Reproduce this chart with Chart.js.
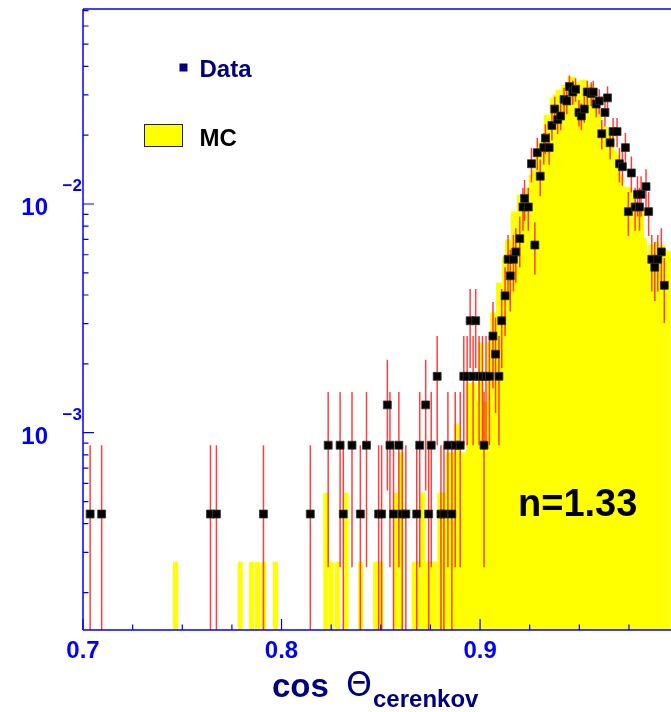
<!DOCTYPE html>
<html>
<head>
<meta charset="utf-8">
<script src="https://cdn.jsdelivr.net/npm/chart.js@4.4.1/dist/chart.umd.min.js"></script>
<style>
  html, body { margin: 0; padding: 0; background: #fff; overflow: hidden; }
  body { width: 671px; height: 712px; }
  canvas { display: block; }
</style>
</head>
<body>
<canvas id="c" width="685" height="712"></canvas>
<script>
// measured cos(theta_cerenkov): points with entries per bin
const dataCos = [
  0.7036, 0.7094, 0.7642, 0.7672, 0.7909, 0.8145, 0.8235, 0.8295, 0.8311, 0.8355,
  0.8397, 0.8428, 0.8489, 0.8504, 0.8533, 0.8546, 0.8564, 0.8591, 0.8608, 0.8626,
  0.8681, 0.8696, 0.8726, 0.8741, 0.8754, 0.8784, 0.8803, 0.8818, 0.8838, 0.8858,
  0.8875, 0.8900, 0.8918, 0.8935, 0.8950, 0.8965, 0.8978, 0.8995, 0.9012, 0.9020,
  0.9030, 0.9047, 0.9065, 0.9078, 0.9095, 0.9109, 0.9126, 0.9141, 0.9152, 0.9168,
  0.9180, 0.9200, 0.9216, 0.9224, 0.9243, 0.9259, 0.9276, 0.9288, 0.9303, 0.9321,
  0.9329, 0.9348, 0.9362, 0.9376, 0.9391, 0.9406, 0.9423, 0.9437, 0.9450, 0.9467,
  0.9481, 0.9498, 0.9510, 0.9525, 0.9540, 0.9560, 0.9570, 0.9585, 0.9600, 0.9613,
  0.9629, 0.9642, 0.9655, 0.9670, 0.9690, 0.9702, 0.9717, 0.9732, 0.9747, 0.9762,
  0.9781, 0.9793, 0.9803, 0.9811, 0.9836, 0.9849, 0.9865, 0.9880, 0.9895, 0.9913,
  0.9928
];
const dataCounts = [
  1, 1, 1, 1, 1, 1, 2, 2, 1, 2,
  1, 2, 1, 1, 3, 2, 1, 2, 1, 1,
  1, 2, 3, 1, 2, 4, 1, 1, 2, 1,
  2, 2, 4, 4, 7, 4, 7, 4, 4, 2,
  4, 4, 6, 5, 4, 7, 9, 13, 11, 13,
  14, 16, 22, 24, 22, 34, 15, 38, 30, 40,
  44, 40, 50, 59, 53, 55, 65, 64, 74, 70,
  72, 57, 55, 59, 70, 69, 70, 62, 64, 46,
  57, 66, 42, 47, 47, 34, 33, 40, 21, 31,
  22, 25, 22, 25, 27, 21, 13, 12, 13, 14,
  10
];
const dataUnit = 4.41e-4;   // normalised weight of one entry

// simulation histogram (bin centre, content)
const mcCos = [
  0.7466, 0.7792, 0.7849, 0.7879, 0.7909, 0.7969, 0.8223, 0.8250, 0.8282, 0.8325,
  0.8398, 0.8474, 0.8499, 0.8577, 0.8602, 0.8668, 0.8688, 0.8712, 0.8733, 0.8753,
  0.8771, 0.8798, 0.8815, 0.8840, 0.8862,
  0.8883, 0.8898, 0.8913, 0.8928, 0.8943, 0.8958, 0.8973, 0.8988, 0.9003, 0.9018,
  0.9033, 0.9048, 0.9063, 0.9078, 0.9093, 0.9108, 0.9123, 0.9138, 0.9153, 0.9168,
  0.9183, 0.9198, 0.9213, 0.9228, 0.9243, 0.9258, 0.9273, 0.9288, 0.9303, 0.9318,
  0.9333, 0.9348, 0.9363, 0.9378, 0.9393, 0.9408, 0.9423, 0.9438, 0.9453, 0.9468,
  0.9483, 0.9498, 0.9513, 0.9528, 0.9543, 0.9558, 0.9573, 0.9588, 0.9603, 0.9618,
  0.9633, 0.9648, 0.9663, 0.9678, 0.9693, 0.9708, 0.9723, 0.9738, 0.9753, 0.9768,
  0.9783, 0.9798, 0.9813, 0.9828, 0.9843, 0.9858, 0.9873, 0.9888, 0.9903, 0.9918,
  0.9933, 0.9948
];
const mcContent = [
  2.72e-4, 2.72e-4, 2.72e-4, 2.72e-4, 2.72e-4, 2.72e-4, 5.44e-4, 2.72e-4, 2.72e-4, 5.44e-4,
  2.72e-4, 2.72e-4, 2.72e-4, 5.44e-4, 8.16e-4, 2.72e-4, 2.72e-4, 5.44e-4, 2.72e-4, 2.72e-4,
  2.72e-4, 5.44e-4, 5.44e-4, 8.16e-4, 8.16e-4,
  0.00109, 0.000816, 0.000816, 0.000816, 0.00165, 0.00165, 0.00165, 0.00136, 0.00247, 0.00136,
  0.00136, 0.00247, 0.00334, 0.00334, 0.00451, 0.00451, 0.00587, 0.00696, 0.00696, 0.00923,
  0.00923, 0.01095, 0.01073, 0.01073, 0.01175, 0.01339, 0.01408, 0.01688, 0.01867, 0.01867,
  0.02450, 0.02401, 0.02900, 0.02996, 0.03151, 0.03151, 0.03314, 0.03314, 0.03591, 0.03591,
  0.03415, 0.03415, 0.03485, 0.03485, 0.03314, 0.03314, 0.03088, 0.02709, 0.02450, 0.02171,
  0.02171, 0.02171, 0.02004, 0.01722, 0.01638, 0.01339, 0.01187, 0.01187, 0.01175, 0.01117,
  0.00990, 0.00970, 0.00970, 0.00710, 0.00598, 0.00662, 0.00642, 0.00682, 0.00642, 0.00662,
  0.00629, 0.00620
];

const xTickLabels = ['0.7', '0.8', '0.9'];
const yLabelExps = [-3, -2];
const yMin = 1.372e-4, yMax = 0.07121;

const blue = '#0000ff';
const navy = '#000080';
const font = '"Liberation Sans", Arial, sans-serif';

// poisson error bars, drawn just before the data markers
const errorBars = {
  id: 'errorBars',
  beforeDatasetDraw(chart, args) {
    if (args.index !== 1) return;
    const {ctx, chartArea: a, scales: {x, y}} = chart;
    ctx.save();
    ctx.beginPath();
    ctx.rect(a.left, a.top, a.right - a.left, a.bottom - a.top);
    ctx.clip();
    ctx.strokeStyle = 'rgba(255,0,0,0.75)';
    ctx.lineWidth = 1.5;
    dataCounts.forEach((n, i) => {
      const px = x.getPixelForValue(dataCos[i]);
      const s = Math.sqrt(n);
      const top = y.getPixelForValue((n + s) * dataUnit);
      const bot = n - s > 0 ? y.getPixelForValue((n - s) * dataUnit) : a.bottom;
      ctx.beginPath();
      ctx.moveTo(px, top);
      ctx.lineTo(px, bot);
      ctx.stroke();
    });
    ctx.restore();
  }
};

// axes frame, ticks, labels, legend and annotation
const decor = {
  id: 'decor',
  afterDraw(chart) {
    const {ctx, chartArea: a, scales: {x, y}} = chart;
    ctx.save();
    ctx.strokeStyle = blue;
    ctx.lineWidth = 1.5;
    ctx.beginPath();
    ctx.moveTo(a.left, a.top); ctx.lineTo(a.right, a.top);
    ctx.moveTo(a.left, a.top); ctx.lineTo(a.left, a.bottom);
    ctx.moveTo(a.left, a.bottom); ctx.lineTo(a.right, a.bottom);
    ctx.stroke();

    // y ticks (log)
    ctx.lineWidth = 1.2;
    ctx.beginPath();
    for (let e = -4; e <= -1; e++) {
      for (let m = 1; m <= 9; m++) {
        const v = m * Math.pow(10, e);
        if (v < y.min || v > y.max) continue;
        const py = y.getPixelForValue(v);
        ctx.moveTo(a.left, py);
        ctx.lineTo(a.left + (m === 1 ? 11 : 5.5), py);
      }
    }
    // x ticks every 0.025
    for (let k = 0; k <= 12; k++) {
      const v = 0.7 + k * 0.025;
      const px = x.getPixelForValue(v);
      ctx.moveTo(px, a.bottom);
      ctx.lineTo(px, a.bottom - (k % 4 === 0 ? 11 : 5.5));
    }
    ctx.stroke();

    // tick labels
    ctx.fillStyle = blue;
    ctx.textBaseline = 'alphabetic';
    ctx.textAlign = 'center';
    ctx.font = 'bold 24px ' + font;
    xTickLabels.forEach(t => {
      ctx.fillText(t, x.getPixelForValue(parseFloat(t)), 658);
    });
    ctx.textAlign = 'right';
    yLabelExps.forEach(e => {
      const py = y.getPixelForValue(Math.pow(10, e));
      ctx.font = 'bold 24px ' + font;
      ctx.fillText('10', 48, py + 11);
      ctx.font = 'bold 17px ' + font;
      ctx.fillText('\u2212' + Math.abs(e), 82, py - 13);
    });

    // axis title
    ctx.fillStyle = navy;
    ctx.textAlign = 'left';
    ctx.font = 'bold 33px ' + font;
    ctx.fillText('cos', 272, 697);
    ctx.font = '33px "DejaVu Sans", sans-serif';
    ctx.fillText('\u0398', 346, 696);
    ctx.font = 'bold 24px ' + font;
    ctx.fillText('cerenkov', 373, 707);

    // legend
    ctx.fillStyle = navy;
    ctx.fillRect(179.5, 63.5, 8, 8);
    ctx.font = 'bold 24px ' + font;
    ctx.fillText('Data', 199.5, 77);
    ctx.fillStyle = '#ffff00';
    ctx.fillRect(144, 124, 39, 23);
    ctx.strokeStyle = '#222';
    ctx.lineWidth = 1;
    ctx.strokeRect(144.5, 124.5, 38, 22);
    ctx.fillStyle = '#000';
    ctx.fillText('MC', 199.5, 146);

    // refractive index
    ctx.font = 'bold 38px ' + font;
    ctx.fillText('n=1.33', 518, 516);
    ctx.restore();
  }
};

new Chart(document.getElementById('c'), {
  type: 'bar',
  data: {
    datasets: [
      {
        type: 'bar',
        label: 'MC',
        data: mcCos.map((c, i) => ({x: c, y: mcContent[i]})),
        backgroundColor: '#ffff00',
        borderWidth: 0,
        barThickness: 4.4,
        base: yMin,
        order: 2
      },
      {
        type: 'scatter',
        label: 'Data',
        data: dataCos.map((c, i) => ({x: c, y: dataCounts[i] * dataUnit})),
        pointStyle: 'rect',
        pointRadius: 5.6,
        backgroundColor: '#000',
        borderColor: '#333',
        borderWidth: 0.8,
        order: 1
      }
    ]
  },
  options: {
    responsive: false,
    animation: false,
    devicePixelRatio: 1,
    layout: { padding: { left: 83, top: 9, right: 0, bottom: 82 } },
    plugins: { legend: { display: false }, tooltip: { enabled: false } },
    scales: {
      x: { type: 'linear', min: 0.7, max: 1.0, offset: false, display: false },
      y: { type: 'logarithmic', min: yMin, max: yMax, display: false }
    }
  },
  plugins: [errorBars, decor]
});
</script>
</body>
</html>
